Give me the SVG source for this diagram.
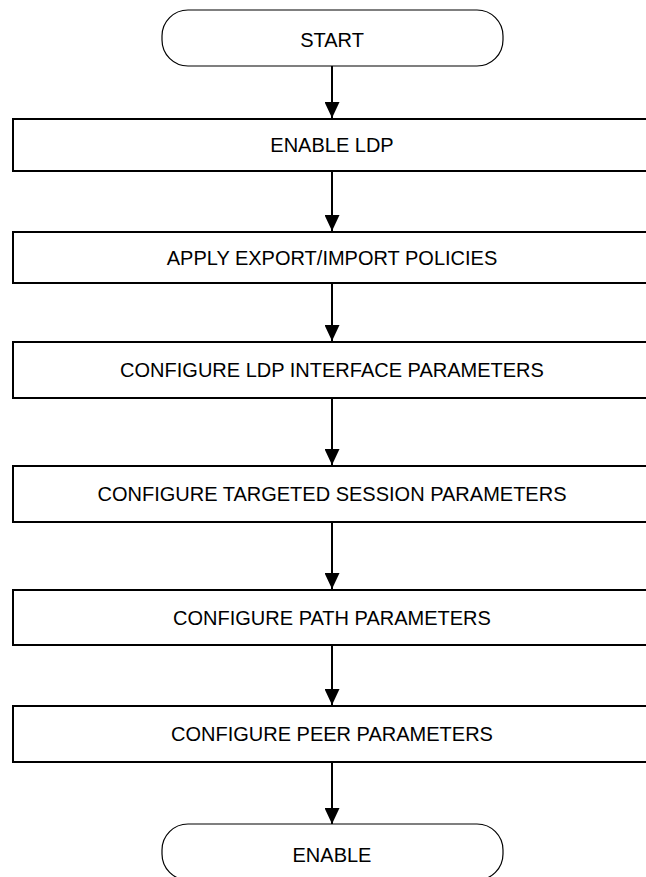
<svg xmlns="http://www.w3.org/2000/svg" width="646" height="877" viewBox="0 0 646 877">
  <style>
    .box { fill: #fff; stroke: #000; stroke-width: 2; }
    .term { fill: #fff; stroke: #000; stroke-width: 1.2; }
    .lbl { font-family: "Liberation Sans", Arial, sans-serif; font-size: 20px; fill: #000; text-anchor: middle; }
    .flow { stroke: #000; stroke-width: 2; fill: none; marker-end: url(#head); }
  </style>
  <defs>
    <marker id="head" viewBox="0 0 16 15" refX="16" refY="7.5" markerWidth="16" markerHeight="15" markerUnits="userSpaceOnUse" orient="auto">
      <path d="M0,0 L16,7.5 L0,15 Z" fill="#000"/>
    </marker>
  </defs>

  <g id="connectors">
    <line class="flow" x1="332" y1="66" x2="332" y2="118"/>
    <line class="flow" x1="332" y1="171" x2="332" y2="231"/>
    <line class="flow" x1="332" y1="283" x2="332" y2="341"/>
    <line class="flow" x1="332" y1="398" x2="332" y2="465"/>
    <line class="flow" x1="332" y1="522" x2="332" y2="589"/>
    <line class="flow" x1="332" y1="645" x2="332" y2="705"/>
    <line class="flow" x1="332" y1="762" x2="332" y2="824"/>
  </g>

  <g id="start">
    <rect class="term" x="162" y="10" width="341" height="56" rx="26" ry="26"/>
    <text class="lbl" x="332" y="47">START</text>
  </g>

  <g id="enable-ldp">
    <rect class="box" x="13" y="119" width="640" height="52"/>
    <text class="lbl" x="332" y="152">ENABLE LDP</text>
  </g>

  <g id="apply-policies">
    <rect class="box" x="13" y="232" width="640" height="51"/>
    <text class="lbl" x="332" y="265">APPLY EXPORT/IMPORT POLICIES</text>
  </g>

  <g id="ldp-interface">
    <rect class="box" x="13" y="342" width="640" height="56"/>
    <text class="lbl" x="332" y="377">CONFIGURE LDP INTERFACE PARAMETERS</text>
  </g>

  <g id="targeted-session">
    <rect class="box" x="13" y="466" width="640" height="56"/>
    <text class="lbl" x="332" y="501">CONFIGURE TARGETED SESSION PARAMETERS</text>
  </g>

  <g id="path-params">
    <rect class="box" x="13" y="590" width="640" height="55"/>
    <text class="lbl" x="332" y="625">CONFIGURE PATH PARAMETERS</text>
  </g>

  <g id="peer-params">
    <rect class="box" x="13" y="706" width="640" height="56"/>
    <text class="lbl" x="332" y="741">CONFIGURE PEER PARAMETERS</text>
  </g>

  <g id="enable">
    <rect class="term" x="162" y="824" width="341" height="56" rx="26" ry="26"/>
    <text class="lbl" x="332" y="862">ENABLE</text>
  </g>
</svg>
